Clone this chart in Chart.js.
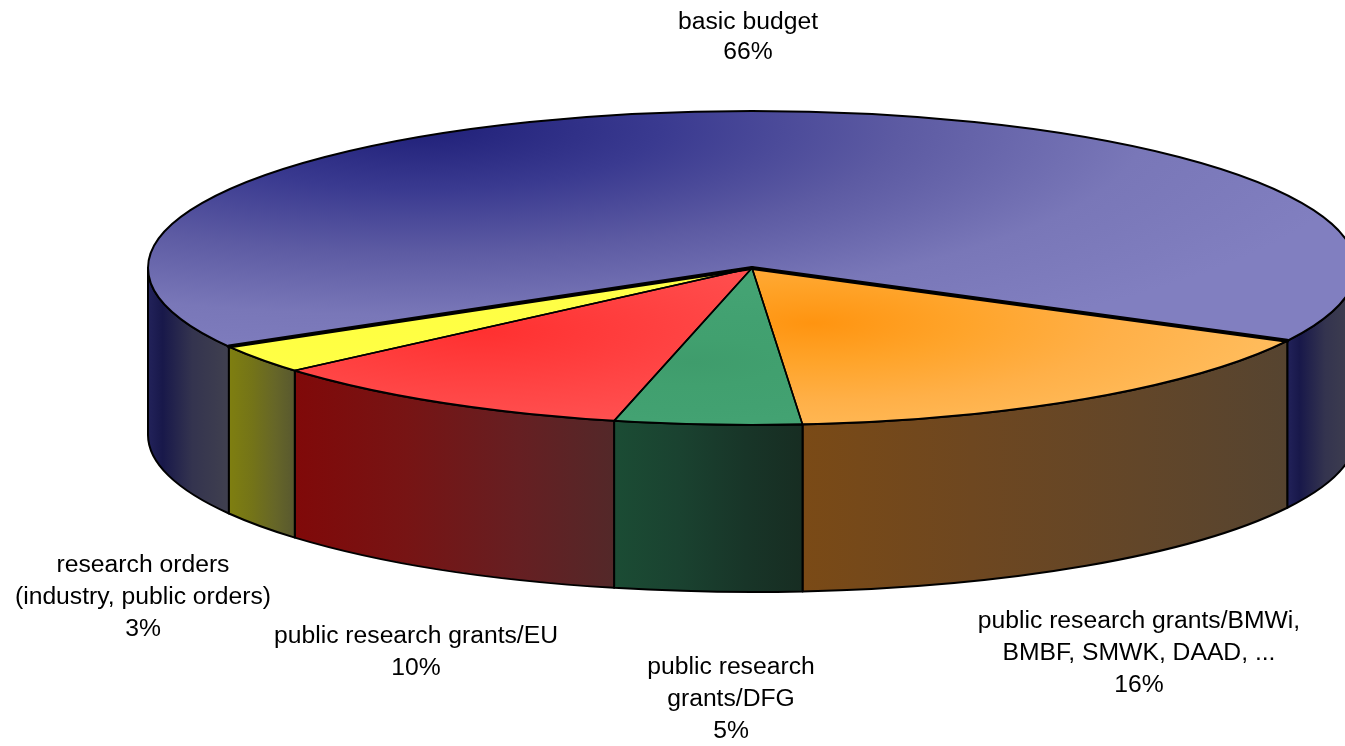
<!DOCTYPE html>
<html>
<head>
<meta charset="utf-8">
<title>Funding sources</title>
<script src="https://cdn.jsdelivr.net/npm/chart.js@4/dist/chart.umd.min.js"></script>
<style>
  html, body { margin: 0; padding: 0; background: #fff; }
  #wrap { width: 1345px; height: 746px; position: relative; }
</style>
</head>
<body>
<div id="wrap"><canvas id="pieChart"></canvas></div>
<script>
// slices, clockwise starting from the big one
const categories = [
  ['basic budget'],
  ['public research grants/BMWi,', 'BMBF, SMWK, DAAD, ...'],
  ['public research', 'grants/DFG'],
  ['public research grants/EU'],
  ['research orders', '(industry, public orders)']
];
const shares = [66, 16, 5, 10, 3];
const percentLabels = shares.map(v => v + '%');

// tilted pie on screen: ellipse centre, radii and wall height
const CX = 752, CY = 268, RX = 604, RY = 157, DEPTH = 167;

// label block anchors (centre x, first line y)
const labelAnchors = [[748, 22], [1139, 621], [731, 667], [416, 636], [143, 565]];
const LINE = 32;

// wall shading, left -> right, as [offset, colour]
const wallStops = [
  [[0, '#22225a'], [0.18, '#18184a'], [0.55, '#34344f'], [1, '#40404f']],
  [[0, '#7a4a16'], [0.35, '#6e4720'], [0.7, '#624629'], [1, '#564430']],
  [[0, '#1b4c34'], [0.35, '#1a4230'], [0.7, '#183528'], [1, '#172d22']],
  [[0, '#800909'], [0.35, '#771414'], [0.7, '#661f22'], [1, '#532829']],
  [[0, '#7f7f10'], [0.35, '#747418'], [0.7, '#666628'], [1, '#58582f']]
];

// top face shading: radial centre (unit pie coords), radius, stops
const topShades = [
  { c: [-0.55, -0.9], r: 1.6, stops: ['#1f1f78', '#3a3a90', '#5d5ba3', '#7977b8', '#817fc0'] },
  { c: [0.1, 0.35], r: 1.0, stops: ['#ff9410', '#ffa42a', '#ffb048', '#ffbb5a', '#ffc264'] },
  { c: [-0.1, 0.6], r: 0.6, stops: ['#3f9c6c', '#41a06f', '#42a171', '#44a373', '#45a474'] },
  { c: [-0.45, 0.4], r: 0.8, stops: ['#ff3030', '#ff3b3b', '#ff4646', '#ff5050', '#ff5656'] },
  { c: [-0.7, 0.3], r: 0.5, stops: ['#ffff40', '#ffff42', '#ffff44', '#ffff46', '#ffff48'] }
];

function topFill(context) {
  const chart = context.chart;
  const area = chart.chartArea;
  const i = context.dataIndex;
  const s = topShades[i];
  if (!area || i === undefined) return s.stops[2];
  const R = Math.min(area.right - area.left, area.bottom - area.top) / 2;
  const cx = (area.left + area.right) / 2;
  const cy = (area.top + area.bottom) / 2;
  const gx = cx + s.c[0] * R, gy = cy + s.c[1] * R;
  const g = chart.ctx.createRadialGradient(gx, gy, 0, gx, gy, s.r * R);
  s.stops.forEach((col, k) => g.addColorStop(k / (s.stops.length - 1), col));
  return g;
}

// visible (front) angular pieces of a slice, in [0, PI]
function frontPieces(start, end) {
  const TAU = Math.PI * 2;
  let s = ((start % TAU) + TAU) % TAU;
  let e = s + (end - start);
  const out = [];
  [[0, Math.PI], [TAU, TAU + Math.PI]].forEach(([lo, hi]) => {
    const a = Math.max(s, lo), b = Math.min(e, hi);
    if (b > a) out.push([a - lo, b - lo]);
  });
  return out;
}

const pie3d = {
  id: 'pie3d',
  beforeDatasetsDraw(chart) {
    const ctx = chart.ctx;
    const arcs = chart.getDatasetMeta(0).data;
    if (!arcs.length) return;

    // side walls
    arcs.forEach((arc, i) => {
      frontPieces(arc.startAngle, arc.endAngle).forEach(([a1, a2]) => {
        const xl = CX + RX * Math.cos(a2), xr = CX + RX * Math.cos(a1);
        ctx.save();
        ctx.beginPath();
        ctx.ellipse(CX, CY, RX, RY, 0, a1, a2, false);
        ctx.lineTo(xl, CY + DEPTH + RY * Math.sin(a2));
        ctx.ellipse(CX, CY + DEPTH, RX, RY, 0, a2, a1, true);
        ctx.closePath();
        const g = ctx.createLinearGradient(xl, 0, xr, 0);
        wallStops[i].forEach(([off, col]) => g.addColorStop(off, col));
        ctx.fillStyle = g;
        ctx.fill();
        ctx.lineWidth = 2;
        ctx.lineJoin = 'round';
        ctx.strokeStyle = '#000';
        ctx.stroke();
        ctx.restore();
      });
    });

    // squash the library's round pie into the tilted top face
    const a0 = arcs[0];
    const R = a0.outerRadius;
    ctx.save();
    ctx.translate(CX, CY);
    ctx.scale(RX / R, RY / R);
    ctx.translate(-a0.x, -a0.y);
  },
  afterDatasetsDraw(chart) {
    const ctx = chart.ctx;
    const arcs = chart.getDatasetMeta(0).data;
    if (!arcs.length) return;
    ctx.restore();

    ctx.save();
    ctx.strokeStyle = '#000';
    ctx.lineJoin = 'round';
    ctx.lineCap = 'round';

    // rim of the top face
    ctx.lineWidth = 2;
    ctx.beginPath();
    ctx.ellipse(CX, CY, RX, RY, 0, 0, Math.PI * 2);
    ctx.stroke();

    // radial edges; the big slice gets the heavier line
    arcs.forEach((arc, i) => {
      ctx.lineWidth = i === 0 ? 4 : 1.6;
      [arc.startAngle, arc.endAngle].forEach(a => {
        ctx.beginPath();
        ctx.moveTo(CX, CY);
        ctx.lineTo(CX + RX * Math.cos(a), CY + RY * Math.sin(a));
        ctx.stroke();
      });
    });
    ctx.restore();
  },
  afterDraw(chart) {
    const ctx = chart.ctx;
    ctx.save();
    ctx.font = '24.7px "Liberation Sans", Arial, sans-serif';
    ctx.fillStyle = '#000';
    ctx.textAlign = 'center';
    ctx.textBaseline = 'middle';
    categories.forEach((lines, i) => {
      const [x, y] = labelAnchors[i];
      const step = i === 0 ? 30 : LINE;
      lines.concat(percentLabels[i]).forEach((t, j) => ctx.fillText(t, x, y + j * step));
    });
    ctx.restore();
  }
};

new Chart(document.getElementById('pieChart'), {
  type: 'pie',
  data: {
    labels: categories,
    datasets: [{
      data: shares,
      backgroundColor: topFill,
      borderWidth: 0,
      clip: false
    }]
  },
  options: {
    responsive: true,
    maintainAspectRatio: false,
    animation: false,
    events: [],
    rotation: -120,
    plugins: {
      legend: { display: false },
      tooltip: { enabled: false }
    }
  },
  plugins: [pie3d]
});
</script>
</body>
</html>
